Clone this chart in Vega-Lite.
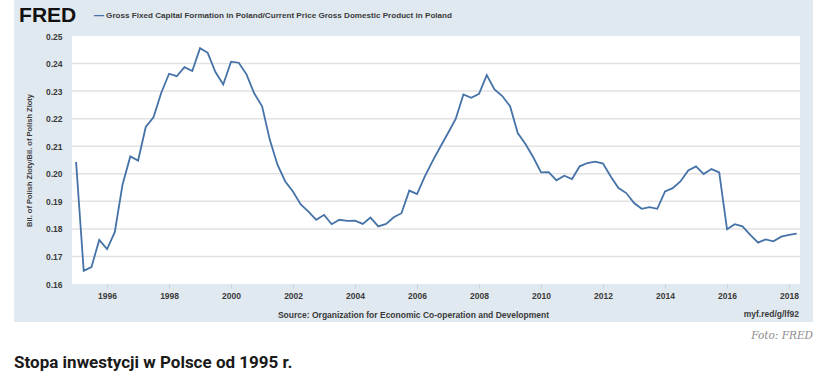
{
  "$schema": "https://vega.github.io/schema/vega-lite/v6.json",
  "width": 728,
  "height": 248,
  "autosize": {"type": "none"},
  "padding": {"left": 72, "top": 36, "right": 21, "bottom": 98},
  "background": "white",
  "config": {"view": {"stroke": null, "fill": null}, "font": "Liberation Sans"},
  "datasets": {
    "series": [
      {"date": "1995-01-01", "value": 0.2043}, {"date": "1995-04-01", "value": 0.1648}, {"date": "1995-07-01", "value": 0.1661}, {"date": "1995-10-01", "value": 0.1760},
      {"date": "1996-01-01", "value": 0.1727}, {"date": "1996-04-01", "value": 0.1788}, {"date": "1996-07-01", "value": 0.1960}, {"date": "1996-10-01", "value": 0.2063},
      {"date": "1997-01-01", "value": 0.2048}, {"date": "1997-04-01", "value": 0.2170}, {"date": "1997-07-01", "value": 0.2205}, {"date": "1997-10-01", "value": 0.2294},
      {"date": "1998-01-01", "value": 0.2363}, {"date": "1998-04-01", "value": 0.2354}, {"date": "1998-07-01", "value": 0.2387}, {"date": "1998-10-01", "value": 0.2373},
      {"date": "1999-01-01", "value": 0.2456}, {"date": "1999-04-01", "value": 0.2439}, {"date": "1999-07-01", "value": 0.2369}, {"date": "1999-10-01", "value": 0.2324},
      {"date": "2000-01-01", "value": 0.2407}, {"date": "2000-04-01", "value": 0.2403}, {"date": "2000-07-01", "value": 0.2361}, {"date": "2000-10-01", "value": 0.2291},
      {"date": "2001-01-01", "value": 0.2245}, {"date": "2001-04-01", "value": 0.2124}, {"date": "2001-07-01", "value": 0.2033}, {"date": "2001-10-01", "value": 0.1972},
      {"date": "2002-01-01", "value": 0.1935}, {"date": "2002-04-01", "value": 0.1889}, {"date": "2002-07-01", "value": 0.1863}, {"date": "2002-10-01", "value": 0.1833},
      {"date": "2003-01-01", "value": 0.1851}, {"date": "2003-04-01", "value": 0.1817}, {"date": "2003-07-01", "value": 0.1833}, {"date": "2003-10-01", "value": 0.1829},
      {"date": "2004-01-01", "value": 0.1830}, {"date": "2004-04-01", "value": 0.1818}, {"date": "2004-07-01", "value": 0.1841}, {"date": "2004-10-01", "value": 0.1809},
      {"date": "2005-01-01", "value": 0.1818}, {"date": "2005-04-01", "value": 0.1842}, {"date": "2005-07-01", "value": 0.1857}, {"date": "2005-10-01", "value": 0.1939},
      {"date": "2006-01-01", "value": 0.1926}, {"date": "2006-04-01", "value": 0.1990}, {"date": "2006-07-01", "value": 0.2045}, {"date": "2006-10-01", "value": 0.2097},
      {"date": "2007-01-01", "value": 0.2148}, {"date": "2007-04-01", "value": 0.2199}, {"date": "2007-07-01", "value": 0.2288}, {"date": "2007-10-01", "value": 0.2276},
      {"date": "2008-01-01", "value": 0.2290}, {"date": "2008-04-01", "value": 0.2358}, {"date": "2008-07-01", "value": 0.2306}, {"date": "2008-10-01", "value": 0.2282},
      {"date": "2009-01-01", "value": 0.2245}, {"date": "2009-04-01", "value": 0.2148}, {"date": "2009-07-01", "value": 0.2108}, {"date": "2009-10-01", "value": 0.2060},
      {"date": "2010-01-01", "value": 0.2005}, {"date": "2010-04-01", "value": 0.2006}, {"date": "2010-07-01", "value": 0.1976}, {"date": "2010-10-01", "value": 0.1993},
      {"date": "2011-01-01", "value": 0.1981}, {"date": "2011-04-01", "value": 0.2027}, {"date": "2011-07-01", "value": 0.2039}, {"date": "2011-10-01", "value": 0.2044},
      {"date": "2012-01-01", "value": 0.2037}, {"date": "2012-04-01", "value": 0.1990}, {"date": "2012-07-01", "value": 0.1948}, {"date": "2012-10-01", "value": 0.1930},
      {"date": "2013-01-01", "value": 0.1894}, {"date": "2013-04-01", "value": 0.1873}, {"date": "2013-07-01", "value": 0.1879}, {"date": "2013-10-01", "value": 0.1873},
      {"date": "2014-01-01", "value": 0.1936}, {"date": "2014-04-01", "value": 0.1948}, {"date": "2014-07-01", "value": 0.1972}, {"date": "2014-10-01", "value": 0.2012},
      {"date": "2015-01-01", "value": 0.2027}, {"date": "2015-04-01", "value": 0.1999}, {"date": "2015-07-01", "value": 0.2017}, {"date": "2015-10-01", "value": 0.2005},
      {"date": "2016-01-01", "value": 0.1799}, {"date": "2016-04-01", "value": 0.1817}, {"date": "2016-07-01", "value": 0.1809}, {"date": "2016-10-01", "value": 0.1778},
      {"date": "2017-01-01", "value": 0.1750}, {"date": "2017-04-01", "value": 0.1762}, {"date": "2017-07-01", "value": 0.1755}, {"date": "2017-10-01", "value": 0.1772},
      {"date": "2018-01-01", "value": 0.1778}, {"date": "2018-04-01", "value": 0.1783}
    ],
    "grid": [{"g": 0.17}, {"g": 0.18}, {"g": 0.19}, {"g": 0.20}, {"g": 0.21}, {"g": 0.22}, {"g": 0.23}, {"g": 0.24}]
  },
  "layer": [
    {
      "data": {"values": [{"k": "panel"}]},
      "mark": {"type": "rect", "color": "#e1e9f0", "clip": false},
      "encoding": {
        "x": {"datum": {"year": 1993, "month": 1, "date": 1, "utc": true}, "type": "temporal"},
        "x2": {"datum": {"year": 2018, "month": 10, "date": 10, "utc": true}},
        "y": {
          "datum": 0.2635,
          "type": "quantitative",
          "scale": {"domain": [0.16, 0.25], "nice": false, "zero": false},
          "axis": {
            "zindex": 1,
            "values": [0.16, 0.17, 0.18, 0.19, 0.2, 0.21, 0.22, 0.23, 0.24, 0.25],
            "tickCount": 10,
            "format": ".2f",
            "grid": false,
            "domain": false,
            "ticks": false,
            "labelOverlap": false,
            "labelPadding": 10,
            "labelFontSize": 8.5,
            "labelFontWeight": "bold",
            "labelColor": "#3a3a3a",
            "title": "Bil. of Polish Zloty/Bil. of Polish Zloty",
            "titleFontSize": 7.5,
            "titleFontWeight": "bold",
            "titleColor": "#3a3a3a",
            "titlePadding": 12
          }
        },
        "y2": {"datum": 0.1462}
      }
    },
    {
      "data": {"values": [{"k": "plot"}]},
      "mark": {"type": "rect", "color": "#ffffff"},
      "encoding": {
        "x": {"datum": {"year": 1994, "month": 11, "date": 14, "utc": true}, "type": "temporal"},
        "x2": {"datum": {"year": 2018, "month": 5, "date": 10, "utc": true}},
        "y": {"datum": 0.25, "type": "quantitative"},
        "y2": {"datum": 0.16}
      }
    },
    {
      "data": {"name": "grid"},
      "mark": {"type": "rule", "color": "#e2e2e2", "strokeWidth": 1.5},
      "encoding": {"y": {"field": "g", "type": "quantitative"}}
    },
    {
      "data": {"name": "series", "format": {"parse": {"date": "utc:'%Y-%m-%d'"}}},
      "mark": {"type": "line", "color": "#4572a7", "strokeWidth": 1.8},
      "encoding": {
        "x": {
          "field": "date",
          "type": "temporal",
          "scale": {"type": "utc", "domain": [{"year": 1994, "month": 11, "date": 14, "utc": true}, {"year": 2018, "month": 5, "date": 10, "utc": true}]},
          "axis": {
            "zindex": 1,
            "values": [
              {"year": 1996, "utc": true}, {"year": 1998, "utc": true}, {"year": 2000, "utc": true}, {"year": 2002, "utc": true},
              {"year": 2004, "utc": true}, {"year": 2006, "utc": true}, {"year": 2008, "utc": true}, {"year": 2010, "utc": true},
              {"year": 2012, "utc": true}, {"year": 2014, "utc": true}, {"year": 2016, "utc": true}, {"year": 2018, "utc": true}
            ],
            "format": "%Y",
            "formatType": "utc",
            "grid": false,
            "domain": false,
            "ticks": true,
            "tickSize": 4,
            "tickColor": "#c9d3dd",
            "labelPadding": 3,
            "labelFontSize": 8.5,
            "labelFontWeight": "bold",
            "labelColor": "#3a3a3a",
            "labelBaseline": "top",
            "labelOverlap": false,
            "title": "Source: Organization for Economic Co-operation and Development",
            "titleX": 341,
            "titleY": 30,
            "titleAlign": "center",
            "titleBaseline": "middle",
            "titleFontSize": 8.5,
            "titleFontWeight": "bold",
            "titleColor": "#3a3a3a"
          }
        },
        "y": {"field": "value", "type": "quantitative"}
      }
    },
    {
      "data": {"values": [{"t": "FRED"}]},
      "mark": {"type": "text", "align": "left", "baseline": "middle", "dx": 5, "dy": -20, "fontSize": 21, "fontWeight": "bold", "color": "#111111", "clip": false},
      "encoding": {
        "x": {"datum": {"year": 1993, "month": 1, "date": 1, "utc": true}, "type": "temporal"},
        "y": {"datum": 0.25, "type": "quantitative"},
        "text": {"field": "t"}
      }
    },
    {
      "data": {"values": [{"t": "—"}]},
      "mark": {"type": "text", "align": "left", "baseline": "middle", "dx": 80, "dy": -20, "fontSize": 10, "fontWeight": "bold", "color": "#4572a7", "clip": false},
      "encoding": {
        "x": {"datum": {"year": 1993, "month": 1, "date": 1, "utc": true}, "type": "temporal"},
        "y": {"datum": 0.25, "type": "quantitative"},
        "text": {"field": "t"}
      }
    },
    {
      "data": {"values": [{"t": "Gross Fixed Capital Formation in Poland/Current Price Gross Domestic Product in Poland"}]},
      "mark": {"type": "text", "align": "left", "baseline": "middle", "dx": 92, "dy": -20, "fontSize": 8.1, "fontWeight": "bold", "color": "#3a3a3a", "clip": false},
      "encoding": {
        "x": {"datum": {"year": 1993, "month": 1, "date": 1, "utc": true}, "type": "temporal"},
        "y": {"datum": 0.25, "type": "quantitative"},
        "text": {"field": "t"}
      }
    },
    {
      "data": {"values": [{"t": "myf.red/g/lf92"}]},
      "mark": {"type": "text", "align": "right", "baseline": "middle", "dx": -1, "dy": 30, "fontSize": 8.5, "fontWeight": "bold", "color": "#3a3a3a", "clip": false},
      "encoding": {
        "x": {"datum": {"year": 2018, "month": 5, "date": 10, "utc": true}, "type": "temporal"},
        "y": {"datum": 0.16, "type": "quantitative"},
        "text": {"field": "t"}
      }
    },
    {
      "data": {"values": [{"t": "Foto: FRED"}]},
      "mark": {"type": "text", "align": "right", "baseline": "middle", "dx": 0, "dy": 52, "fontSize": 10.5, "fontStyle": "italic", "font": "DejaVu Serif", "color": "#8c8c8c", "clip": false},
      "encoding": {
        "x": {"datum": {"year": 2018, "month": 10, "date": 10, "utc": true}, "type": "temporal"},
        "y": {"datum": 0.16, "type": "quantitative"},
        "text": {"field": "t"}
      }
    },
    {
      "data": {"values": [{"t": "Stopa inwestycji w Polsce od 1995 r."}]},
      "mark": {"type": "text", "align": "left", "baseline": "middle", "dx": 0, "dy": 79, "fontSize": 17, "fontWeight": "bold", "font": "Roboto", "color": "#1a1a1a", "clip": false},
      "encoding": {
        "x": {"datum": {"year": 1993, "month": 1, "date": 1, "utc": true}, "type": "temporal"},
        "y": {"datum": 0.16, "type": "quantitative"},
        "text": {"field": "t"}
      }
    }
  ]
}
